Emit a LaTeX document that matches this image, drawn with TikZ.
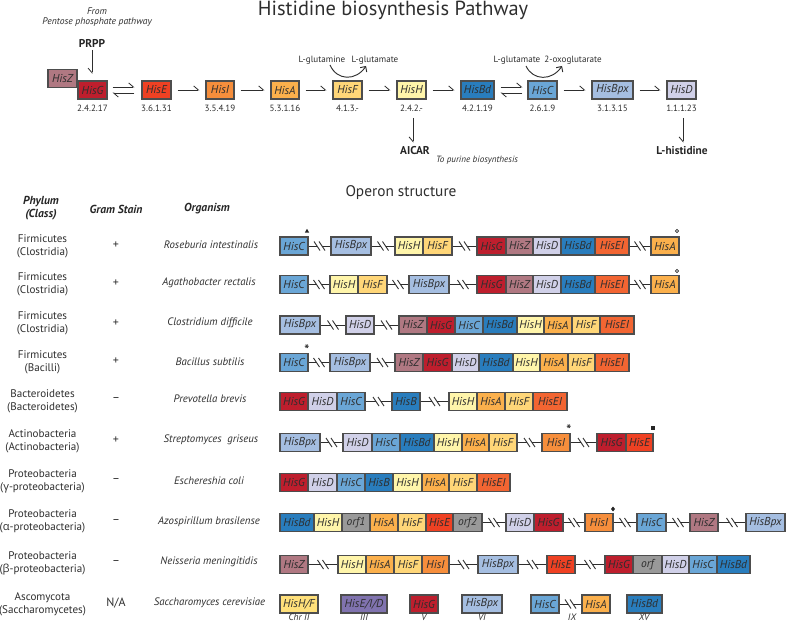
\documentclass[tikz,border=0pt]{standalone}
\usepackage{fontspec}
\setmainfont{PT Sans}
\newfontfamily\grk{Open Sans}
\usetikzlibrary{arrows.meta,calc}
\definecolor{cG}{HTML}{BE1E2D}
\definecolor{cZ}{HTML}{B07882}
\definecolor{cE}{HTML}{EF4123}
\definecolor{cEI}{HTML}{F26532}
\definecolor{cI}{HTML}{F68E3C}
\definecolor{cA}{HTML}{FBB04C}
\definecolor{cF}{HTML}{FFD678}
\definecolor{cH}{HTML}{FFF5AA}
\definecolor{cBd}{HTML}{297DBD}
\definecolor{cC}{HTML}{6AA6D6}
\definecolor{cBpx}{HTML}{A5BEE1}
\definecolor{cD}{HTML}{D0D0E8}
\definecolor{cOrf}{HTML}{999999}
\definecolor{cEID}{HTML}{8073AF}
\definecolor{cHF}{HTML}{FFE07A}
\definecolor{bord}{HTML}{4D4D4D}
\definecolor{txt}{HTML}{2E2E2E}
\tikzset{
  gene/.style={draw=bord, line width=0.8pt, inner sep=0pt, minimum height=13.5pt,
    text=txt, font=\fontsize{8.6}{9}\selectfont\itshape},
  link/.style={draw=txt, line width=0.7pt},
  parr/.style={draw=txt, line width=0.6pt, -{Straight Barb[harpoon,length=3.5pt,width=6pt]},
    shorten <=4.5pt, shorten >=4.5pt},
  harp/.style={draw=txt, line width=0.6pt, -{Straight Barb[harpoon,length=3.5pt,width=6pt]}},
  varr/.style={draw=txt, line width=0.6pt, -{Straight Barb[harpoon,swap,length=3.5pt,width=6pt]}},
  carr/.style={draw=txt, line width=0.7pt, -{Straight Barb[length=3pt,width=6pt]}},
  ec/.style={text=txt, font=\fontsize{6.8}{7}\selectfont, inner sep=0pt},
  small/.style={text=txt, font=\fontsize{6.8}{7}\selectfont, inner sep=0pt},
  smallit/.style={text=txt, font=\fontsize{7.2}{8}\selectfont\itshape, inner sep=0pt},
  boldlab/.style={text=black!85, font=\fontsize{8.5}{9}\selectfont\bfseries, inner sep=0pt},
  phy/.style={text=txt, font=\fontsize{8.3}{9.75}\selectfont, align=center, inner sep=0pt},
  gram/.style={text=txt, font=\fontsize{9}{9}\selectfont, inner sep=0pt},
  org/.style={text=txt, font=\fontsize{8.1}{9}\selectfont\itshape, inner sep=0pt},
  head/.style={text=black!85, font=\fontsize{8.7}{9.75}\selectfont\bfseries\itshape, align=center, inner sep=0pt},
  chr/.style={text=txt, font=\fontsize{7}{7}\selectfont\itshape, inner sep=0pt, anchor=north},
  markfill/.style={fill=black!85},
  astx/.style={text=txt, font=\fontsize{10}{10}\selectfont\bfseries, inner sep=0pt}
}
\newcommand\gn[6]{\node[gene,fill=#5,minimum width={(#3-#2)*0.75pt}] (#1) at ({(#2+#3)/2},#4) {#6};}
\newcommand\brk[2]{%
  \coordinate (mm) at ($(#1.east)!.5!(#2.west)$);
  \draw[link] (#1.east) -- ($(mm)+(-2.5,0)$);
  \draw[link] ($(mm)+(2.5,0)$) -- (#2.west);
  \draw[link] ($(mm)+(-5.5,-4.5)$) -- ++(6,9);
  \draw[link] ($(mm)+(-0.5,-4.5)$) -- ++(6,9);
}
\begin{document}
\begin{tikzpicture}[x=0.75pt,y=-0.75pt]
\useasboundingbox (0,0) rectangle (787,623);
% ---------- title ----------
\node[anchor=base, text=txt, font=\fontsize{15.3}{17}\selectfont, inner sep=0pt] (title) at (393,15.5) {Histidine biosynthesis Pathway};
% ---------- pathway ----------
\node[smallit] (from) at (97,11) {From};
\node[smallit] (ppp) at (97,22) {Pentose phosphate pathway};
\node[boldlab] (prpp) at (92,43) {PRPP};
\gn{pZ}{48}{77}{78.5}{cZ}{HisZ}
\gn{pG}{78}{107}{90}{cG}{HisG}
\gn{pE}{142}{171}{90}{cE}{HisE}
\gn{pI}{206}{234}{90}{cI}{HisI}
\gn{pA}{271}{299}{90}{cA}{HisA}
\gn{pF}{333}{362}{90}{cF}{HisF}
\gn{pH}{397}{426}{90}{cH}{HisH}
\gn{pBd}{461}{494}{90}{cBd}{HisBd}
\gn{pC}{528}{557}{90}{cC}{HisC}
\gn{pBpx}{592}{633}{90}{cBpx}{HisBpx}
\gn{pD}{667}{696}{90}{cD}{HisD}
\node[ec] (ecG) at (92.5,108) {2.4.2.17};
\node[ec] (ecE) at (156.5,108) {3.6.1.31};
\node[ec] (ecI) at (220,108) {3.5.4.19};
\node[ec] (ecA) at (285,108) {5.3.1.16};
\node[ec] (ecF) at (347.5,108) {4.1.3.-};
\node[ec] (ecH) at (411.5,108) {2.4.2.-};
\node[ec] (ecBd) at (477.5,108) {4.2.1.19};
\node[ec] (ecC) at (542.5,108) {2.6.1.9};
\node[ec] (ecBpx) at (612.5,108) {3.1.3.15};
\node[ec] (ecD) at (681.5,108) {1.1.1.23};
% PRPP arrow
\draw[varr, shorten <=2pt, shorten >=5pt] (prpp.south) -- (prpp.south |- pG.north);
% equilibria
\draw[harp] ($(pG.east)+(5,-3)$) -- ($(pE.west)+(-7,-3)$);
\draw[harp] ($(pE.west)+(-7,3)$) -- ($(pG.east)+(5,3)$);
\draw[harp] ($(pBd.east)+(6,-3)$) -- ($(pC.west)+(-5,-3)$);
\draw[harp] ($(pC.west)+(-5,3)$) -- ($(pBd.east)+(6,3)$);
% forward arrows
\draw[parr] (pE.east) -- (pI.west);
\draw[parr] (pI.east) -- (pA.west);
\draw[parr] (pA.east) -- (pF.west);
\draw[parr] (pF.east) -- (pH.west);
\draw[parr] (pH.east) -- (pBd.west);
\draw[parr] (pC.east) -- (pBpx.west);
\draw[parr] (pBpx.east) -- (pD.west);
% cosubstrates
\node[small] (gln) at (322,60) {L-glutamine};
\node[small] (glu1) at (375,60) {L-glutamate};
\node[small] (glu2) at (517,60) {L-glutamate};
\node[small] (oxo) at (573,60) {2-oxoglutarate};
\coordinate (f1) at (330,65);
\coordinate (f2) at (366,66);
\draw[carr] (f1) .. controls (337,81) and (356,81) .. (f2);
\coordinate (c1) at (526,66);
\coordinate (c2) at (562,66);
\draw[carr] (c1) .. controls (533,81) and (552,81) .. (c2);
% products
\node[boldlab] (aicar) at (415,151) {AICAR};
\node[smallit, font=\fontsize{6.8}{7}\selectfont\itshape] (purine) at (477,160) {To purine biosynthesis};
\node[boldlab] (lhis) at (682,151) {L-histidine};
\coordinate (hA) at (413,118);
\coordinate (dA) at (683,118);
\draw[varr, shorten >=3pt] (hA) -- (hA |- aicar.north);
\draw[varr, shorten >=3pt] (dA) -- (dA |- lhis.north);
% ---------- operon structure ----------
\node[anchor=base, text=txt, font=\fontsize{11.5}{13}\selectfont, inner sep=0pt] (optitle) at (401,197) {Operon structure};
\node[head] (hphy) at (41,208.5) {Phylum\\(Class)};
\node[head] (hgram) at (116,209) {Gram Stain};
\node[head] (horg) at (207,209) {Organism};
% row labels
\node[phy] (p1) at (42.5,246) {Firmicutes\\(Clostridia)};
\node[gram] (g1) at (116,245) {+};
\node[org] (o1) at (211,244.5) {Roseburia intestinalis};
\node[phy] (p2) at (42.5,284) {Firmicutes\\(Clostridia)};
\node[gram] (g2) at (116,283.5) {+};
\node[org] (o2) at (209,283) {Agathobacter rectalis};
\node[phy] (p3) at (42.5,323) {Firmicutes\\(Clostridia)};
\node[gram] (g3) at (116,323) {+};
\node[org] (o3) at (210,322.5) {Clostridium difficile};
\node[phy] (p4) at (42.5,362) {Firmicutes\\(Bacilli)};
\node[gram] (g4) at (116,361.5) {+};
\node[org] (o4) at (210,361.5) {Bacillus subtilis};
\node[phy] (p5) at (42.5,401) {Bacteroidetes\\(Bacteroidetes)};
\node[gram] (g5) at (116,400) {--};
\node[org] (o5) at (210,399) {Prevotella brevis};
\node[phy] (p6) at (42.5,441.5) {Actinobacteria\\(Actinobacteria)};
\node[gram] (g6) at (116,440.5) {+};
\node[org] (o6) at (211,440) {Streptomyces\ \ griseus};
\node[phy] (p7) at (42.5,481) {Proteobacteria\\({\grk γ}-proteobacteria)};
\node[gram] (g7) at (116,481) {--};
\node[org] (o7) at (209,481) {Eschereshia coli};
\node[phy] (p8) at (42.5,521.5) {Proteobacteria\\({\grk α}-proteobacteria)};
\node[gram] (g8) at (116,521.5) {--};
\node[org] (o8) at (209,521.5) {Azospirillum brasilense};
\node[phy] (p9) at (42.5,563) {Proteobacteria\\({\grk β}-proteobacteria)};
\node[gram] (g9) at (116,562.5) {--};
\node[org] (o9) at (209,562) {Neisseria meningitidis};
\node[phy] (p10) at (42.5,604.5) {Ascomycota\\(Saccharomycetes)};
\node[gram] (g10) at (116,603) {N/A};
\node[org] (o10) at (209.5,602.5) {Saccharomyces cerevisiae};
% Row 1
\gn{r1a}{280}{308}{246}{cC}{HisC}
\gn{r1b}{331}{371}{246}{cBpx}{HisBpx}
\gn{r1c}{395}{423}{246}{cH}{HisH}
\gn{r1d}{423}{452}{246}{cF}{HisF}
\gn{r1e}{477}{506}{246}{cG}{HisG}
\gn{r1f}{506}{533}{246}{cZ}{HisZ}
\gn{r1g}{533}{561}{246}{cD}{HisD}
\gn{r1h}{561}{595}{246}{cBd}{HisBd}
\gn{r1i}{595}{629}{246}{cEI}{HisEI}
\gn{r1j}{651}{679}{246}{cA}{HisA}
\brk{r1a}{r1b}\brk{r1b}{r1c}\brk{r1d}{r1e}\brk{r1i}{r1j}
\fill[markfill] (307,228.8) -- (304.8,232.6) -- (309.2,232.6) -- cycle;
\draw[txt, line width=0.5pt] (677,231) circle[radius=1.2pt];
% Row 2
\gn{r2a}{280}{308}{284.5}{cC}{HisC}
\gn{r2b}{330}{358}{284.5}{cH}{HisH}
\gn{r2c}{358}{387}{284.5}{cF}{HisF}
\gn{r2d}{409}{449}{284.5}{cBpx}{HisBpx}
\gn{r2e}{477}{506}{284.5}{cG}{HisG}
\gn{r2f}{506}{533}{284.5}{cZ}{HisZ}
\gn{r2g}{533}{561}{284.5}{cD}{HisD}
\gn{r2h}{561}{595}{284.5}{cBd}{HisBd}
\gn{r2i}{595}{629}{284.5}{cEI}{HisEI}
\gn{r2j}{651}{679}{284.5}{cA}{HisA}
\brk{r2a}{r2b}\brk{r2c}{r2d}\brk{r2d}{r2e}\brk{r2i}{r2j}
\draw[txt, line width=0.5pt] (677,271) circle[radius=1.2pt];
% Row 3
\gn{r3a}{280}{320}{325}{cBpx}{HisBpx}
\gn{r3b}{346}{374}{325}{cD}{HisD}
\gn{r3c}{399}{427}{325}{cZ}{HisZ}
\gn{r3d}{427}{455}{325}{cG}{HisG}
\gn{r3e}{455}{483}{325}{cC}{HisC}
\gn{r3f}{483}{517}{325}{cBd}{HisBd}
\gn{r3g}{517}{544}{325}{cH}{HisH}
\gn{r3h}{544}{572}{325}{cA}{HisA}
\gn{r3i}{572}{600}{325}{cF}{HisF}
\gn{r3j}{600}{634}{325}{cEI}{HisEI}
\brk{r3a}{r3b}\brk{r3b}{r3c}
% Row 4
\gn{r4a}{280}{308}{362.5}{cC}{HisC}
\gn{r4b}{330}{370}{362.5}{cBpx}{HisBpx}
\gn{r4c}{395}{423}{362.5}{cZ}{HisZ}
\gn{r4d}{423}{452}{362.5}{cG}{HisG}
\gn{r4e}{452}{479}{362.5}{cD}{HisD}
\gn{r4f}{479}{513}{362.5}{cBd}{HisBd}
\gn{r4g}{513}{540}{362.5}{cH}{HisH}
\gn{r4h}{540}{568}{362.5}{cA}{HisA}
\gn{r4i}{568}{595}{362.5}{cF}{HisF}
\gn{r4j}{595}{629}{362.5}{cEI}{HisEI}
\brk{r4a}{r4b}\brk{r4b}{r4c}
\node[astx] (ast1) at (307,350) {*};
% Row 5
\gn{r5a}{280}{308}{401.5}{cG}{HisG}
\gn{r5b}{308}{337}{401.5}{cD}{HisD}
\gn{r5c}{337}{365}{401.5}{cC}{HisC}
\gn{r5d}{392}{420}{401.5}{cBd}{HisB}
\gn{r5e}{449}{477}{401.5}{cH}{HisH}
\gn{r5f}{477}{505}{401.5}{cA}{HisA}
\gn{r5g}{505}{533}{401.5}{cF}{HisF}
\gn{r5h}{533}{567}{401.5}{cEI}{HisEI}
\brk{r5c}{r5d}\brk{r5d}{r5e}
% Row 6
\gn{r6a}{280}{320}{442.5}{cBpx}{HisBpx}
\gn{r6b}{343}{372}{442.5}{cD}{HisD}
\gn{r6c}{372}{400}{442.5}{cC}{HisC}
\gn{r6d}{400}{434}{442.5}{cBd}{HisBd}
\gn{r6e}{434}{462}{442.5}{cH}{HisH}
\gn{r6f}{462}{489}{442.5}{cA}{HisA}
\gn{r6g}{489}{517}{442.5}{cF}{HisF}
\gn{r6h}{542}{570}{442.5}{cI}{HisI}
\gn{r6i}{597}{626}{442.5}{cG}{HisG}
\gn{r6j}{626}{653}{442.5}{cE}{HisE}
\brk{r6a}{r6b}\brk{r6g}{r6h}\brk{r6h}{r6i}
\node[astx] (ast2) at (569,429.5) {*};
\fill[markfill] (651,426) rectangle (655,430);
% Row 7
\gn{r7a}{280}{308}{482.5}{cG}{HisG}
\gn{r7b}{308}{337}{482.5}{cD}{HisD}
\gn{r7c}{337}{365}{482.5}{cC}{HisC}
\gn{r7d}{365}{393}{482.5}{cBd}{HisB}
\gn{r7e}{393}{422}{482.5}{cH}{HisH}
\gn{r7f}{422}{449}{482.5}{cA}{HisA}
\gn{r7g}{449}{477}{482.5}{cF}{HisF}
\gn{r7h}{477}{510}{482.5}{cEI}{HisEI}
% Row 8
\gn{r8a}{280}{314}{522.5}{cBd}{HisBd}
\gn{r8b}{314}{342}{522.5}{cH}{HisH}
\gn{r8c}{342}{370}{522.5}{cOrf}{orf1}
\gn{r8d}{370}{398}{522.5}{cA}{HisA}
\gn{r8e}{398}{426}{522.5}{cF}{HisF}
\gn{r8f}{426}{453}{522.5}{cE}{HisE}
\gn{r8g}{453}{482}{522.5}{cOrf}{orf2}
\gn{r8h}{506}{534}{522.5}{cD}{HisD}
\gn{r8i}{534}{563}{522.5}{cG}{HisG}
\gn{r8j}{585}{613}{522.5}{cI}{HisI}
\gn{r8k}{637}{666}{522.5}{cC}{HisC}
\gn{r8l}{690}{718}{522.5}{cZ}{HisZ}
\gn{r8m}{746}{785}{522.5}{cBpx}{HisBpx}
\brk{r8g}{r8h}\brk{r8i}{r8j}\brk{r8j}{r8k}\brk{r8k}{r8l}\brk{r8l}{r8m}
\fill[markfill] (613,506.5) -- (615,509) -- (613,511.5) -- (611,509) -- cycle;
% Row 9
\gn{r9a}{280}{308}{564.5}{cZ}{HisZ}
\gn{r9b}{338}{366}{564.5}{cH}{HisH}
\gn{r9c}{366}{394}{564.5}{cA}{HisA}
\gn{r9d}{394}{422}{564.5}{cF}{HisF}
\gn{r9e}{422}{449}{564.5}{cI}{HisI}
\gn{r9f}{478}{518}{564.5}{cBpx}{HisBpx}
\gn{r9g}{547}{575}{564.5}{cE}{HisE}
\gn{r9h}{605}{633}{564.5}{cG}{HisG}
\gn{r9i}{633}{662}{564.5}{cOrf}{orf}
\gn{r9j}{662}{689}{564.5}{cD}{HisD}
\gn{r9k}{689}{717}{564.5}{cC}{HisC}
\gn{r9l}{717}{750}{564.5}{cBd}{HisBd}
\brk{r9a}{r9b}\brk{r9e}{r9f}\brk{r9f}{r9g}\brk{r9g}{r9h}
% Row 10
\gn{r10a}{280}{318}{604}{cHF}{HisH/F}
\gn{r10b}{341}{387}{604}{cEID}{HisE/I/D}
\gn{r10c}{410}{438}{604}{cG}{HisG}
\gn{r10d}{462}{502}{604}{cBpx}{HisBpx}
\gn{r10e}{531}{559}{604}{cC}{HisC}
\gn{r10f}{582}{610}{604}{cA}{HisA}
\gn{r10g}{627}{662}{604}{cBd}{HisBd}
\brk{r10e}{r10f}
\node[chr] (chr2) at (299,614) {Chr II};
\node[chr] (chr3) at (364,614) {III};
\node[chr] (chr5) at (424,614) {V};
\node[chr] (chr6) at (482,614) {VI};
\node[chr] (chr9) at (572,614) {IX};
\node[chr] (chr15) at (644,614) {XV};
\end{tikzpicture}
\end{document}
